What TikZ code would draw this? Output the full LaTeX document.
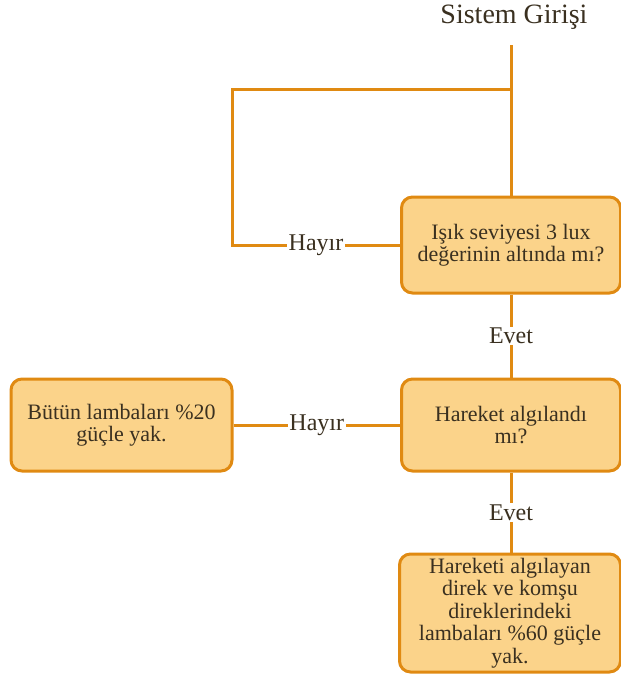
\documentclass[tikz,border=0pt]{standalone}
\usepackage{fontspec}
\setmainfont{Liberation Serif}
\begin{document}
\begin{tikzpicture}[x=1pt,y=-1pt,
  every node/.style={text=txt},
  conn/.style={draw=ora,line width=3pt},
  flowbox/.style={draw=ora,line width=3pt,fill=boxfill,rounded corners=11pt,align=center,
    font=\fontsize{22}{22.5}\selectfont,inner sep=0pt},
  lbl/.style={fill=white,font=\fontsize{24}{26}\selectfont,inner sep=1.5pt}]
\definecolor{ora}{HTML}{E08A12}
\definecolor{boxfill}{HTML}{FBD38A}
\definecolor{txt}{HTML}{3A3020}
\useasboundingbox (0,0) rectangle (621,675);
\node[font=\fontsize{28}{30}\selectfont] (title) at (514,17) {Sistem Girişi};
\coordinate (top) at (511,45);
\coordinate (j) at (511,89);
\coordinate (c1) at (232,89);
\coordinate (c2) at (232,245);
\node[flowbox,minimum width=219pt,minimum height=96pt] (b1) at (511,245) {Işık seviyesi 3 lux\\değerinin altında mı?};
\node[flowbox,minimum width=219pt,minimum height=92pt] (b2) at (511,425) {Hareket algılandı\\mı?};
\node[flowbox,minimum width=221pt,minimum height=92pt] (b3) at (121.5,425) {Bütün lambaları \%20\\güçle yak.};
\node[flowbox,minimum width=221pt,minimum height=118pt] (b4) at (510,613) {Hareketi algılayan\\direk ve komşu\\direklerindeki\\lambaları \%60 güçle\\yak.};
\draw[conn] (top) -- (b1.north);
\draw[conn] (j) -- (c1) -- (c2) -- (b1.west) node[lbl,pos=0.5] (h1) {Hayır};
\draw[conn] (b1.south) -- (b2.north) node[lbl,midway] (e1) {Evet};
\draw[conn] (b3.east) -- (b2.west) node[lbl,midway] (h2) {Hayır};
\draw[conn] (b2.south) -- (b4.north -| b2.south) node[lbl,midway] (e2) {Evet};
\end{tikzpicture}
\end{document}
